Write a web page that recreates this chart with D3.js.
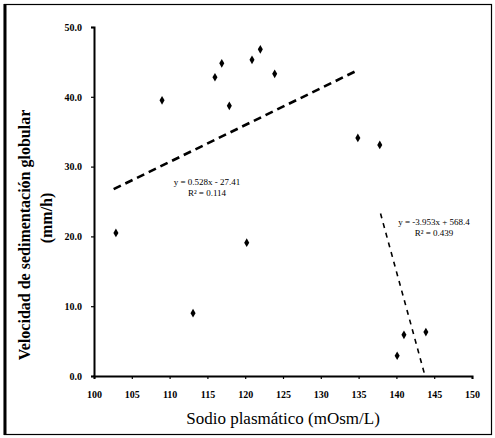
<!DOCTYPE html>
<html><head><meta charset="utf-8">
<script src="https://cdn.jsdelivr.net/npm/d3@7"></script>
<style>body{margin:0;background:#fff}svg{display:block}</style>
</head><body>
<script>
const sodium = [102.9,109.0,113.1,116.0,116.9,117.9,120.2,120.9,122.0,123.9,134.9,137.8,140.1,141.0,143.9];
const vsg    = [20.5, 39.5, 9.0, 42.8, 44.8, 38.7, 19.1, 45.3, 46.8, 43.3, 34.1, 33.1, 2.9, 5.9, 6.3];
const trend1 = {x:[102.6,134.9], slope:0.528, intercept:-27.41, label:["y = 0.528x - 27.41","R² = 0.114"]};
const trend2 = {x:[137.9,143.8], slope:-3.953, intercept:568.4, label:["y = -3.953x + 568.4","R² = 0.439"]};
const xTicks = [100,105,110,115,120,125,130,135,140,145,150];
const yTicks = [0,10,20,30,40,50];

const W=495,H=438;
const svg=d3.select("body").append("svg").attr("width",W).attr("height",H);
const font="'Liberation Serif','DejaVu Serif',serif";
svg.append("rect").attr("x",4.5).attr("y",4.5).attr("width",487).attr("height",430)
  .attr("fill","none").attr("stroke","#000").attr("stroke-width",1.2);
svg.append("line").attr("x1",5).attr("x2",5).attr("y1",4).attr("y2",435).attr("stroke","#000").attr("stroke-width",3);

const x=d3.scaleLinear().domain([100,150]).range([94,472]);
const y=d3.scaleLinear().domain([0,50]).range([376,27]);

const xa=svg.append("g").attr("transform","translate(0,376)")
  .call(d3.axisBottom(x).tickValues(xTicks).tickSize(3).tickFormat(d3.format("d")));
const ya=svg.append("g").attr("transform","translate(94,0)")
  .call(d3.axisLeft(y).tickValues(yTicks).tickSize(3).tickFormat(d3.format(".1f")));
[xa,ya].forEach(a=>{
  a.select(".domain").attr("stroke-width",2);
  a.selectAll(".tick line").attr("stroke-width",1.2);
  a.selectAll("text").attr("font-family",font).attr("font-weight","bold").attr("font-size",10).attr("fill","#000");
});
xa.selectAll("text").attr("dy","1.6em");
ya.selectAll("text").attr("dx","-0.6em");

// trendlines
const tl=(t)=>t.x.map(v=>[x(v),y(t.slope*v+t.intercept)]);
svg.append("path").attr("d",d3.line()(tl(trend1))).attr("stroke","#000").attr("stroke-width",2.6)
  .attr("stroke-dasharray","8,5").attr("fill","none");
svg.append("path").attr("d",d3.line()(tl(trend2))).attr("stroke","#000").attr("stroke-width",1.6)
  .attr("stroke-dasharray","5,5").attr("fill","none");

// points
svg.append("g").selectAll("path").data(sodium).join("path")
  .attr("d",d3.symbol(d3.symbolDiamond,22)())
  .attr("transform",(d,i)=>`translate(${x(d)},${y(vsg[i])})`).attr("fill","#000");

// equations
function eq(t,cx,cy){
  t.label.forEach((s,i)=>svg.append("text").attr("x",cx).attr("y",cy+i*11).attr("text-anchor","middle")
    .attr("font-family",font).attr("font-size",9).attr("fill","#000").text(s));
}
eq(trend1,207,185);
eq(trend2,434,225);

// axis titles
svg.append("text").attr("x",283).attr("y",424).attr("text-anchor","middle")
  .attr("font-family",font).attr("font-size",17).attr("fill","#000").text("Sodio plasmático (mOsm/L)");
svg.append("text").attr("transform","translate(30,235) rotate(-90)").attr("text-anchor","middle")
  .attr("font-family",font).attr("font-weight","bold").attr("font-size",16).attr("fill","#000")
  .text("Velocidad de sedimentación globular");
svg.append("text").attr("transform","translate(52,218) rotate(-90)").attr("text-anchor","middle")
  .attr("font-family",font).attr("font-weight","bold").attr("font-size",16).attr("fill","#000")
  .text("(mm/h)");
</script>
</body></html>
